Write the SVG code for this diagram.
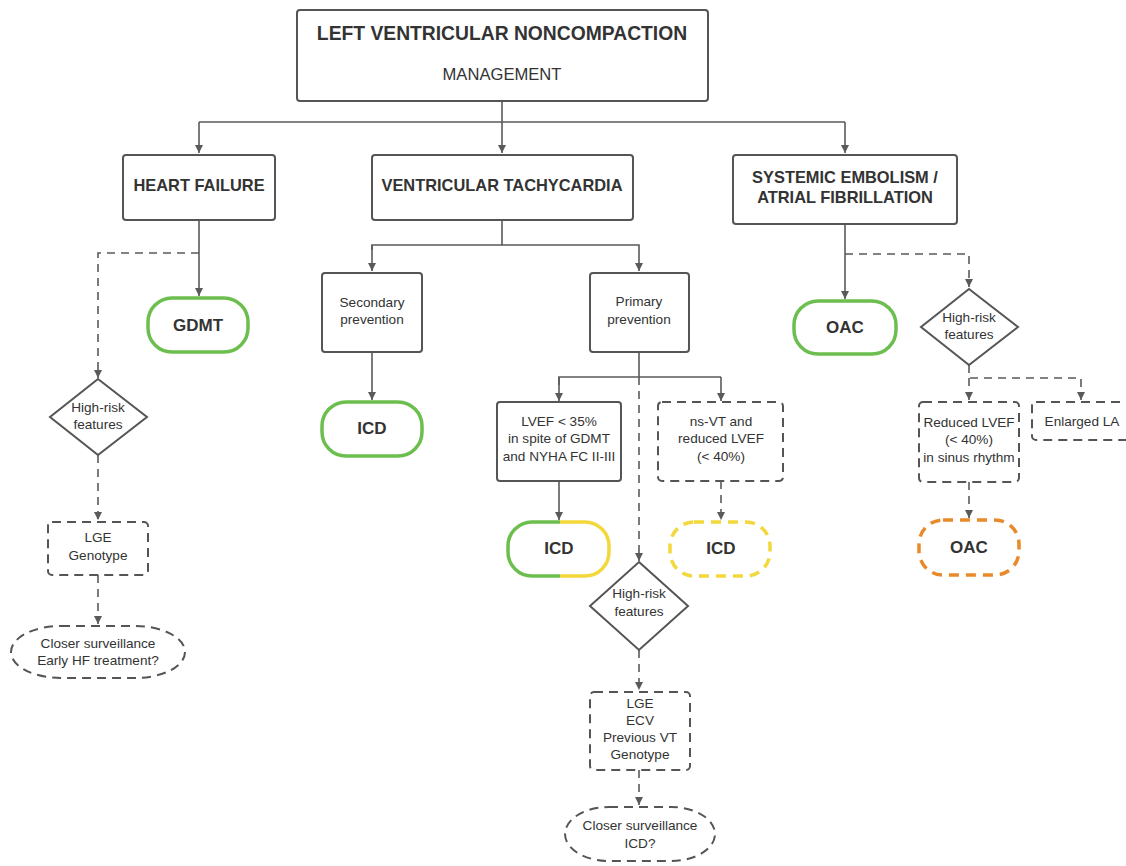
<svg xmlns="http://www.w3.org/2000/svg" width="1126" height="866" viewBox="0 0 1126 866">
<defs>
<style>
.box{fill:#fff;stroke:#555;stroke-width:2}
.dbox{fill:#fff;stroke:#555;stroke-width:2;stroke-dasharray:9 6}
.ln{fill:none;stroke:#5a5a5a;stroke-width:1.6}
.dln{fill:none;stroke:#5a5a5a;stroke-width:1.6;stroke-dasharray:8 6}
.t{font-family:"Liberation Sans",Arial,sans-serif;fill:#333;text-anchor:middle}
.h{font-size:16.4px;font-weight:bold}
.s{font-size:13.6px}
.p{font-size:17px;font-weight:bold}
</style>
<marker id="ar" viewBox="0 0 10 10" refX="10" refY="5" markerWidth="8" markerHeight="8" markerUnits="userSpaceOnUse" orient="auto">
<path d="M0,0 L10,5 L0,10 z" fill="#5a5a5a"/>
</marker>
</defs>
<rect width="1126" height="866" fill="#fff"/>

<g id="connectors">
<path class="ln" d="M502,101 V153" marker-end="url(#ar)"/>
<path class="ln" d="M199,122 H845"/>
<path class="ln" d="M199,122 V153" marker-end="url(#ar)"/>
<path class="ln" d="M845,122 V153" marker-end="url(#ar)"/>
<path class="ln" d="M199,220 V296" marker-end="url(#ar)"/>
<path class="dln" d="M199,253 H98 V378" marker-end="url(#ar)"/>
<path class="dln" d="M98,455 V520" marker-end="url(#ar)"/>
<path class="dln" d="M98,575 V624" marker-end="url(#ar)"/>
<path class="ln" d="M502,220 V245 M372,250 V245 H639 V271" marker-end="url(#ar)"/>
<path class="ln" d="M372,245 V271" marker-end="url(#ar)"/>
<path class="ln" d="M372,352 V400" marker-end="url(#ar)"/>
<path class="ln" d="M639,352 V377 M559,385 V377 H721"/>
<path class="ln" d="M559,377 V401" marker-end="url(#ar)"/>
<path class="ln" d="M721,377 V401" marker-end="url(#ar)"/>
<path class="dln" d="M639,377 V561" marker-end="url(#ar)"/>
<path class="ln" d="M559,481 V520" marker-end="url(#ar)"/>
<path class="dln" d="M721,481 V520" marker-end="url(#ar)"/>
<path class="dln" d="M639,650 V690" marker-end="url(#ar)"/>
<path class="dln" d="M639,770 V805" marker-end="url(#ar)"/>
<path class="ln" d="M845,224 V299" marker-end="url(#ar)"/>
<path class="dln" d="M845,254 H969 V287" marker-end="url(#ar)"/>
<path class="dln" d="M969,365 V378 H1081 V400" marker-end="url(#ar)"/>
<path class="dln" d="M969,378 V400" marker-end="url(#ar)"/>
<path class="dln" d="M969,482 V518" marker-end="url(#ar)"/>
</g>

<g id="root">
<rect class="box" x="297" y="10" width="411" height="91" rx="3"/>
<text class="t" x="502" y="40" style="font-size:19.3px;font-weight:bold">LEFT VENTRICULAR NONCOMPACTION</text>
<text class="t" x="502" y="80" style="font-size:16.6px">MANAGEMENT</text>
</g>

<g id="hf">
<rect class="box" x="123" y="155" width="152" height="65" rx="3"/>
<text class="t h" x="199" y="191">HEART FAILURE</text>
</g>
<g id="vt">
<rect class="box" x="372" y="155" width="261" height="65" rx="3"/>
<text class="t h" x="502" y="191">VENTRICULAR TACHYCARDIA</text>
</g>
<g id="seaf">
<rect class="box" x="733" y="155" width="224" height="69" rx="3"/>
<text class="t h" x="845" y="183">SYSTEMIC EMBOLISM /</text>
<text class="t h" x="845" y="203">ATRIAL FIBRILLATION</text>
</g>

<g id="gdmt">
<rect x="148" y="298" width="100" height="54" rx="24" fill="#fff" stroke="#6cbf4e" stroke-width="3.5"/>
<text class="t p" x="198" y="331">GDMT</text>
</g>
<g id="hf-risk">
<polygon points="98,379 147,417 98,455 50,417" class="box"/>
<text class="t s" x="98" y="412">High-risk</text>
<text class="t s" x="98" y="429">features</text>
</g>
<g id="hf-lge">
<rect class="dbox" x="48" y="522" width="100" height="53" rx="4"/>
<text class="t s" x="98" y="542">LGE</text>
<text class="t s" x="98" y="560">Genotype</text>
</g>
<g id="hf-surv">
<rect class="dbox" x="11" y="626" width="174" height="52" rx="50" ry="26"/>
<text class="t s" x="98" y="648">Closer surveillance</text>
<text class="t s" x="98" y="665">Early HF treatment?</text>
</g>

<g id="secondary">
<rect class="box" x="322" y="273" width="100" height="79" rx="3"/>
<text class="t s" x="372" y="307">Secondary</text>
<text class="t s" x="372" y="324">prevention</text>
</g>
<g id="icd-sec">
<rect x="322" y="402" width="100" height="54" rx="24" fill="#fff" stroke="#6cbf4e" stroke-width="3.5"/>
<text class="t p" x="372" y="434">ICD</text>
</g>
<g id="primary">
<rect class="box" x="590" y="273" width="99" height="79" rx="3"/>
<text class="t s" x="639" y="306">Primary</text>
<text class="t s" x="639" y="324">prevention</text>
</g>
<g id="lvef">
<rect class="box" x="497" y="402" width="124" height="79" rx="3"/>
<text class="t s" x="559" y="426">LVEF &lt; 35%</text>
<text class="t s" x="559" y="443">in spite of GDMT</text>
<text class="t s" x="559" y="461">and NYHA FC II-III</text>
</g>
<g id="icd-prim">
<rect x="508" y="522" width="101" height="54" rx="24" fill="#fff"/>
<path d="M560,522 H532 A24,24 0 0 0 508,546 V552 A24,24 0 0 0 532,576 H560" fill="none" stroke="#6cbf4e" stroke-width="3.5"/>
<path d="M560,522 H585 A24,24 0 0 1 609,546 V552 A24,24 0 0 1 585,576 H560" fill="none" stroke="#f3d83c" stroke-width="3.5"/>
<text class="t p" x="559" y="554">ICD</text>
</g>
<g id="nsvt">
<rect class="dbox" x="658" y="402" width="125" height="79" rx="4"/>
<text class="t s" x="721" y="426">ns-VT and</text>
<text class="t s" x="721" y="443">reduced LVEF</text>
<text class="t s" x="721" y="461">(&lt; 40%)</text>
</g>
<g id="icd-nsvt">
<rect x="670" y="522" width="100" height="54" rx="24" fill="#fff" stroke="#f3d83c" stroke-width="3.5" stroke-dasharray="10 7"/>
<text class="t p" x="721" y="554">ICD</text>
</g>
<g id="vt-risk">
<polygon points="639,562 688,606 639,650 590,606" class="box"/>
<text class="t s" x="639" y="598">High-risk</text>
<text class="t s" x="639" y="616">features</text>
</g>
<g id="vt-lge">
<rect class="dbox" x="590" y="692" width="100" height="78" rx="4"/>
<text class="t s" x="640" y="708">LGE</text>
<text class="t s" x="640" y="725">ECV</text>
<text class="t s" x="640" y="742">Previous VT</text>
<text class="t s" x="640" y="759">Genotype</text>
</g>
<g id="vt-surv">
<rect class="dbox" x="565" y="807" width="150" height="54" rx="44" ry="27"/>
<text class="t s" x="640" y="830">Closer surveillance</text>
<text class="t s" x="640" y="848">ICD?</text>
</g>

<g id="oac">
<rect x="794" y="301" width="102" height="53" rx="24" fill="#fff" stroke="#6cbf4e" stroke-width="3.5"/>
<text class="t p" x="845" y="333">OAC</text>
</g>
<g id="af-risk">
<polygon points="969,289 1018,327 969,365 921,327" class="box"/>
<text class="t s" x="969" y="322">High-risk</text>
<text class="t s" x="969" y="339">features</text>
</g>
<g id="reduced">
<rect class="dbox" x="919" y="402" width="100" height="80" rx="4"/>
<text class="t s" x="969" y="427">Reduced LVEF</text>
<text class="t s" x="969" y="444">(&lt; 40%)</text>
<text class="t s" x="969" y="462">in sinus rhythm</text>
</g>
<g id="enlarged">
<rect class="dbox" x="1032" y="402" width="100" height="38" rx="4"/>
<text class="t s" x="1082" y="426">Enlarged LA</text>
</g>
<g id="oac-orange">
<rect x="919" y="520" width="100" height="55" rx="24" fill="#fff" stroke="#e88a2a" stroke-width="3.5" stroke-dasharray="10 7"/>
<text class="t p" x="969" y="553">OAC</text>
</g>
</svg>
